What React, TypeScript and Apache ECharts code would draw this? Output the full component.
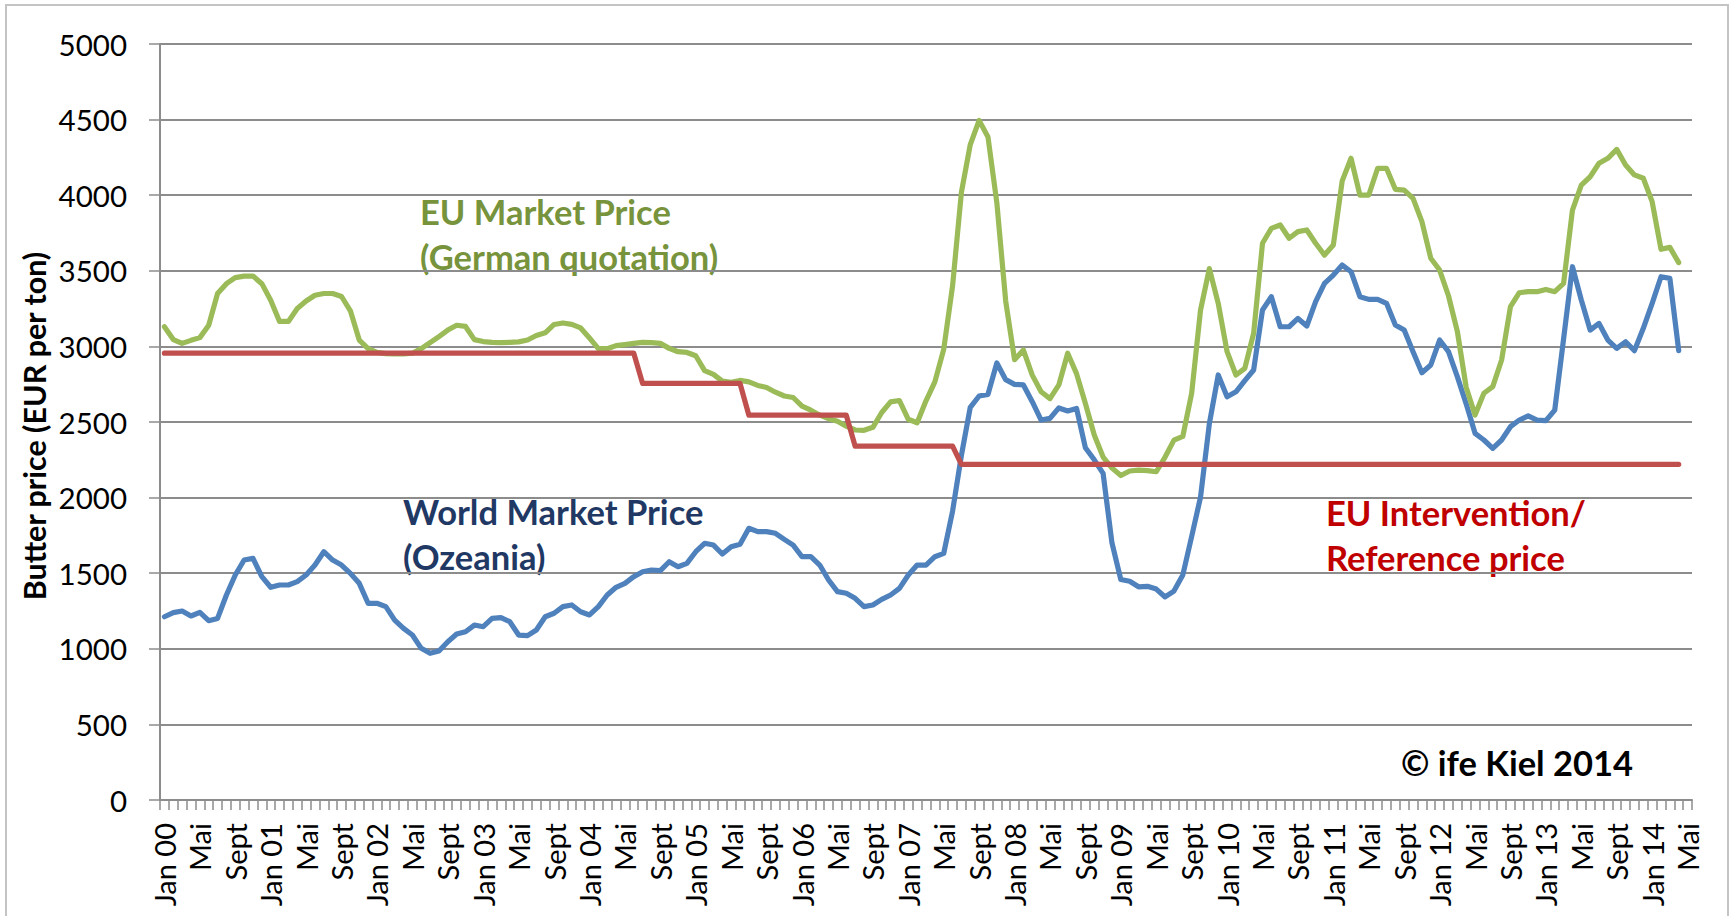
import React, { useEffect, useRef } from "react";
import * as echarts from "echarts";

// ---- tick labels ----
const monthNames = ["Jan", "Feb", "Mrz", "Apr", "Mai", "Jun", "Jul", "Aug", "Sept", "Okt", "Nov", "Dez"];
const yearLabels = ["00", "01", "02", "03", "04", "05", "06", "07", "08", "09", "10", "11", "12", "13", "14"];
const lastYearMonths = 5; // Jan 14 .. Mai 14

// ---- series values (EUR per ton), monthly from Jan 2000 ----
const worldMarketPrice = [
  1212, 1239, 1250, 1217, 1241, 1186, 1201, 1356, 1488, 1587, 1598, 1477,
  1407, 1422, 1422, 1444, 1488, 1554, 1642, 1587, 1554, 1499, 1433, 1301,
  1301, 1279, 1190, 1135, 1091, 1003, 970, 985, 1047, 1098, 1113, 1157,
  1146, 1201, 1206, 1179, 1091, 1087, 1124, 1212, 1235, 1279, 1290, 1245,
  1224, 1279, 1356, 1407, 1433, 1477, 1510, 1521, 1517, 1576, 1543, 1565,
  1642, 1698, 1686, 1627, 1675, 1691, 1797, 1775, 1775, 1764, 1724, 1686,
  1609, 1609, 1554, 1455, 1378, 1367, 1334, 1279, 1290, 1327, 1356, 1400,
  1488, 1554, 1554, 1609, 1631, 1910, 2280, 2597, 2672, 2683, 2890, 2780,
  2749, 2745, 2634, 2513, 2524, 2593, 2573, 2590, 2330, 2250, 2160, 1700,
  1458, 1447, 1410, 1413, 1395, 1343, 1382, 1488, 1743, 2003, 2490, 2811,
  2667, 2700, 2773, 2844, 3241, 3329, 3130, 3130, 3185, 3135, 3296, 3417,
  3472, 3538, 3494, 3329, 3311, 3311, 3285, 3142, 3108, 2965, 2826, 2877,
  3042, 2965, 2800, 2620, 2425, 2381, 2326, 2381, 2469, 2513, 2540, 2513,
  2509, 2579, 3050, 3527, 3307, 3108, 3152, 3042, 2987, 3031, 2972, 3120,
  3285, 3461, 3450, 2972,
];

const euMarketPrice = [
  3130, 3045, 3020, 3040, 3058, 3140, 3350, 3415, 3455, 3465, 3465, 3415,
  3305, 3165, 3165, 3250, 3300, 3338, 3350, 3350, 3330, 3235, 3042, 2985,
  2960, 2952, 2950, 2950, 2955, 2985, 3025, 3065, 3108, 3140, 3132, 3045,
  3032, 3027, 3025, 3027, 3030, 3042, 3072, 3090, 3145, 3155, 3146, 3122,
  3055, 2985, 2985, 3005, 3012, 3020, 3027, 3025, 3020, 2987, 2965, 2960,
  2938, 2840, 2815, 2770, 2762, 2775, 2765, 2742, 2728, 2697, 2672, 2662,
  2605, 2578, 2545, 2522, 2505, 2472, 2447, 2445, 2465, 2563, 2633, 2642,
  2518, 2495, 2640, 2765, 2980, 3400, 4020, 4335, 4495, 4385, 3950, 3300,
  2912, 2976, 2810, 2700, 2655, 2745, 2955, 2820, 2622, 2414, 2268, 2195,
  2146, 2176, 2182, 2178, 2171, 2268, 2380, 2405, 2690, 3240, 3515, 3285,
  2965, 2811, 2855, 3087, 3682, 3781, 3803, 3715, 3759, 3770, 3682, 3604,
  3671, 4095, 4244, 4001, 4001, 4178, 4178, 4039, 4034, 3979, 3825, 3583,
  3505, 3335, 3100, 2730, 2546, 2690, 2734, 2910, 3263, 3355, 3362, 3362,
  3377, 3362, 3417, 3902, 4067, 4122, 4211, 4244, 4303, 4200, 4134, 4112,
  3957, 3642, 3655, 3554,
];

// EU intervention / reference price: level and the month index where it starts
const interventionLevels = [2955, 2755, 2545, 2340, 2220];
const interventionStartMonth = [0, 54, 66, 78, 90];
const interventionLastMonth = 171;

const yTicks = { min: 0, max: 5000, interval: 500 };

const categories: string[] = [];
yearLabels.forEach((yy, yi) => {
  const n = yi === yearLabels.length - 1 ? lastYearMonths : 12;
  for (let m = 0; m < n; m++) {
    categories.push(m === 0 ? `Jan ${yy}` : monthNames[m]);
  }
});

const interventionPrice: number[] = [];
for (let i = 0; i <= interventionLastMonth; i++) {
  let lvl = interventionLevels[0];
  interventionStartMonth.forEach((s, k) => {
    if (i >= s) lvl = interventionLevels[k];
  });
  interventionPrice.push(lvl);
}

const FONT = "Lato";
const GRID = "#8c8c8c";

export default function App() {
  const ref = useRef<HTMLDivElement>(null);
  useEffect(() => {
    document.body.style.margin = "0";
    document.body.style.overflow = "hidden";
    if (!ref.current) return;
    const chart = echarts.init(ref.current, undefined, { renderer: "svg" });
    const lineBase = { width: 5.2, cap: "round", join: "round" };
    const textStyle = (fill: string, size = 34.5) => ({
      fill,
      fontSize: size,
      fontWeight: "bold",
      fontFamily: FONT,
      align: "left",
      verticalAlign: "middle",
    });
    chart.setOption({
      animation: false,
      backgroundColor: "#ffffff",
      grid: { left: 160, right: 38, top: 44, bottom: 116, containLabel: false },
      xAxis: {
        type: "category",
        data: categories,
        boundaryGap: true,
        axisLine: { show: true, lineStyle: { color: GRID, width: 2 } },
        axisTick: { show: true, interval: 0, length: 10, lineStyle: { color: GRID, width: 1.5 } },
        axisLabel: {
          interval: 3,
          rotate: 90,
          margin: 23,
          fontSize: 29,
          color: "#000",
          fontFamily: FONT,
        },
        splitLine: { show: false },
      },
      yAxis: {
        type: "value",
        min: yTicks.min,
        max: yTicks.max,
        interval: yTicks.interval,
        axisLine: { show: true, lineStyle: { color: GRID, width: 2 } },
        axisTick: { show: true, length: 11, lineStyle: { color: GRID, width: 1.5 } },
        axisLabel: {
          margin: 33,
          fontSize: 29.5,
          color: "#000",
          fontFamily: FONT,
          formatter: (v: number) => String(v),
        },
        splitLine: { show: true, lineStyle: { color: GRID, width: 2 } },
      },
      series: [
        {
          name: "World Market Price (Ozeania)",
          type: "line",
          data: worldMarketPrice,
          symbol: "none",
          lineStyle: { ...lineBase, color: "#4F81BD" },
          itemStyle: { color: "#4F81BD" },
          z: 2,
        },
        {
          name: "EU Market Price (German quotation)",
          type: "line",
          data: euMarketPrice,
          symbol: "none",
          lineStyle: { ...lineBase, color: "#9BBB59" },
          itemStyle: { color: "#9BBB59" },
          z: 3,
        },
        {
          name: "EU Intervention/Reference price",
          type: "line",
          data: interventionPrice,
          symbol: "none",
          lineStyle: { ...lineBase, color: "#C0504D" },
          itemStyle: { color: "#C0504D" },
          z: 4,
        },
      ],
      graphic: [
        {
          type: "rect",
          silent: true,
          z: -10,
          shape: { x: 6, y: 5, width: 1722, height: 940 },
          style: { fill: "none", stroke: "#c4c4c4", lineWidth: 2 },
        },
        {
          type: "text",
          x: 34,
          y: 426,
          rotation: Math.PI / 2,
          style: {
            text: "Butter price (EUR per ton)",
            fill: "#000",
            fontSize: 30.5,
            fontWeight: "bold",
            fontFamily: FONT,
            align: "center",
            verticalAlign: "middle",
          },
        },
        { type: "text", x: 420, y: 211, style: { text: "EU Market Price", ...textStyle("#77933C") } },
        { type: "text", x: 420, y: 256, style: { text: "(German quotation)", ...textStyle("#77933C") } },
        { type: "text", x: 403, y: 511, style: { text: "World Market Price", ...textStyle("#1F3864") } },
        { type: "text", x: 403, y: 556, style: { text: "(Ozeania)", ...textStyle("#1F3864") } },
        { type: "text", x: 1326, y: 512, style: { text: "EU Intervention/", ...textStyle("#C00000") } },
        { type: "text", x: 1326, y: 557, style: { text: "Reference price", ...textStyle("#C00000") } },
        { type: "text", x: 1401, y: 762, style: { text: "© ife Kiel 2014", ...textStyle("#000000") } },
      ],
    });
    return () => chart.dispose();
  }, []);
  return <div ref={ref} style={{ width: 1730, height: 916 }} />;
}
